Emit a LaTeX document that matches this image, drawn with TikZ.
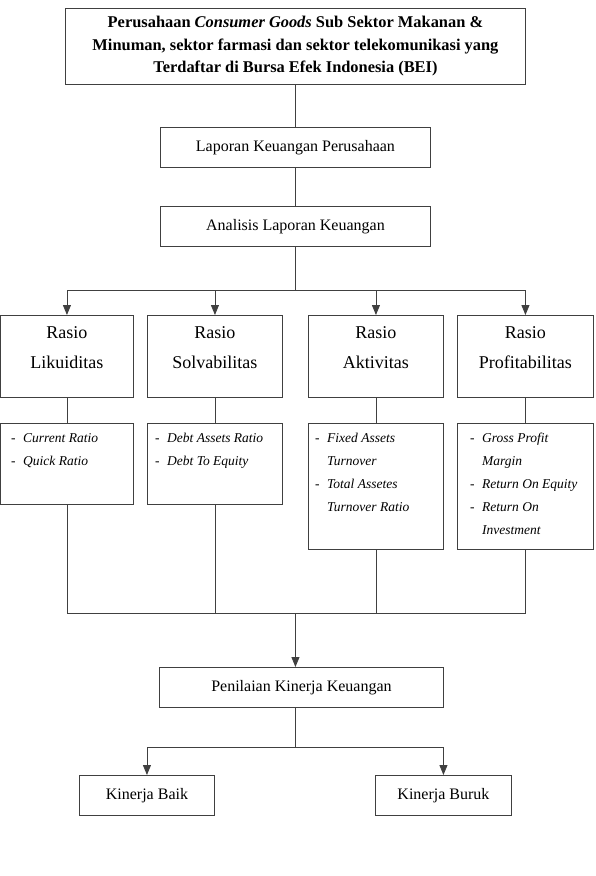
\documentclass[tikz,border=0pt]{standalone}
\usepackage{fontspec}
\setmainfont{Liberation Serif}
\usetikzlibrary{arrows.meta}
\begin{document}
\begin{tikzpicture}[x=1pt,y=-1pt,
 box/.style={draw=black!75, line width=0.9pt, rectangle, inner sep=0pt, anchor=north west},
 conn/.style={draw=black!75, line width=0.9pt},
 arr/.style={conn, -{Triangle[width=8pt,length=10pt]}},
 bigtxt/.style={align=center, inner sep=0pt, font=\fontsize{18}{30}\selectfont},
 midtxt/.style={font=\fontsize{16}{18}\selectfont},
 item/.style={inner sep=0pt, anchor=north west, font=\fontsize{13.5}{23}\selectfont},
]
\useasboundingbox[fill=white] (0,0) rectangle (595,876);

% top
\node[box, minimum width=460pt, minimum height=76pt, align=center,
  font=\fontsize{16.4}{22.5}\selectfont\bfseries] (top) at (65,8)
  {Perusahaan \textit{Consumer Goods} Sub Sektor Makanan \&\\
   Minuman, sektor farmasi dan sektor telekomunikasi yang\\
   Terdaftar di Bursa Efek Indonesia (BEI)};

\node[box, midtxt, minimum width=270pt, minimum height=40pt] (lap) at (160,127) {Laporan Keuangan Perusahaan};
\node[box, midtxt, minimum width=270pt, minimum height=40pt] (ana) at (160,206) {Analisis Laporan Keuangan};

% rasio boxes
\node[box, minimum width=133pt, minimum height=82pt] (lik) at (0,315) {};
\node[box, minimum width=135pt, minimum height=82pt] (sol) at (147,315) {};
\node[box, minimum width=135pt, minimum height=82pt] (akt) at (308,315) {};
\node[box, minimum width=136pt, minimum height=82pt] (pro) at (457,315) {};
\node[bigtxt] (likT) at (lik.center |- 0,348) {Rasio\\Likuiditas};
\node[bigtxt] (solT) at (sol.center |- 0,348) {Rasio\\Solvabilitas};
\node[bigtxt] (aktT) at (akt.center |- 0,348) {Rasio\\Aktivitas};
\node[bigtxt] (proT) at (pro.center |- 0,348) {Rasio\\Profitabilitas};

% item boxes
\node[box, minimum width=133pt, minimum height=81pt] (likI) at (0,423) {};
\node[box, minimum width=135pt, minimum height=81pt] (solI) at (147,423) {};
\node[box, minimum width=135pt, minimum height=126pt] (aktI) at (308,423) {};
\node[box, minimum width=136pt, minimum height=126pt] (proI) at (457,423) {};

\node[item] (likL) at (11,426) {\begin{tabular}{@{}p{12pt}@{}l@{}}-&\textit{Current Ratio}\\-&\textit{Quick Ratio}\end{tabular}};
\node[item] (solL) at (155,426) {\begin{tabular}{@{}p{12pt}@{}l@{}}-&\textit{Debt Assets Ratio}\\-&\textit{Debt To Equity}\end{tabular}};
\node[item] (aktL) at (315,426) {\begin{tabular}{@{}p{12pt}@{}l@{}}-&\textit{Fixed Assets}\\&\textit{Turnover}\\-&\textit{Total Assetes}\\&\textit{Turnover Ratio}\end{tabular}};
\node[item] (proL) at (470,426) {\begin{tabular}{@{}p{12pt}@{}l@{}}-&\textit{Gross Profit}\\&\textit{Margin}\\-&\textit{Return On Equity}\\-&\textit{Return On}\\&\textit{Investment}\end{tabular}};

% bottom
\node[box, midtxt, minimum width=284pt, minimum height=40pt] (pen) at (159,667) {Penilaian Kinerja Keuangan};
\node[box, midtxt, minimum width=135pt, minimum height=40pt] (baik) at (79,775) {Kinerja Baik};
\node[box, midtxt, minimum width=136pt, minimum height=40pt] (buruk) at (375,775) {Kinerja Buruk};

\coordinate (hub1) at (ana.south |- 0,290);
\coordinate (hub2) at (ana.south |- 0,613);
\coordinate (hub3) at (ana.south |- 0,747);

\draw[conn] (top.south -| lap.north) -- (lap.north);
\draw[conn] (lap.south) -- (ana.north);
\draw[conn] (ana.south) -- (hub1);
\foreach \n in {lik,sol,akt,pro}{
  \draw[arr] (hub1) -| (\n.north);
  \draw[conn] (\n.south) -- (\n I.north);
  \draw[conn] (\n I.south) |- (hub2);
}
\draw[arr] (hub2) -- (hub2 |- pen.north);
\draw[conn] (pen.south -| hub3) -- (hub3);
\draw[arr] (hub3) -| (baik.north);
\draw[arr] (hub3) -| (buruk.north);
\end{tikzpicture}
\end{document}
